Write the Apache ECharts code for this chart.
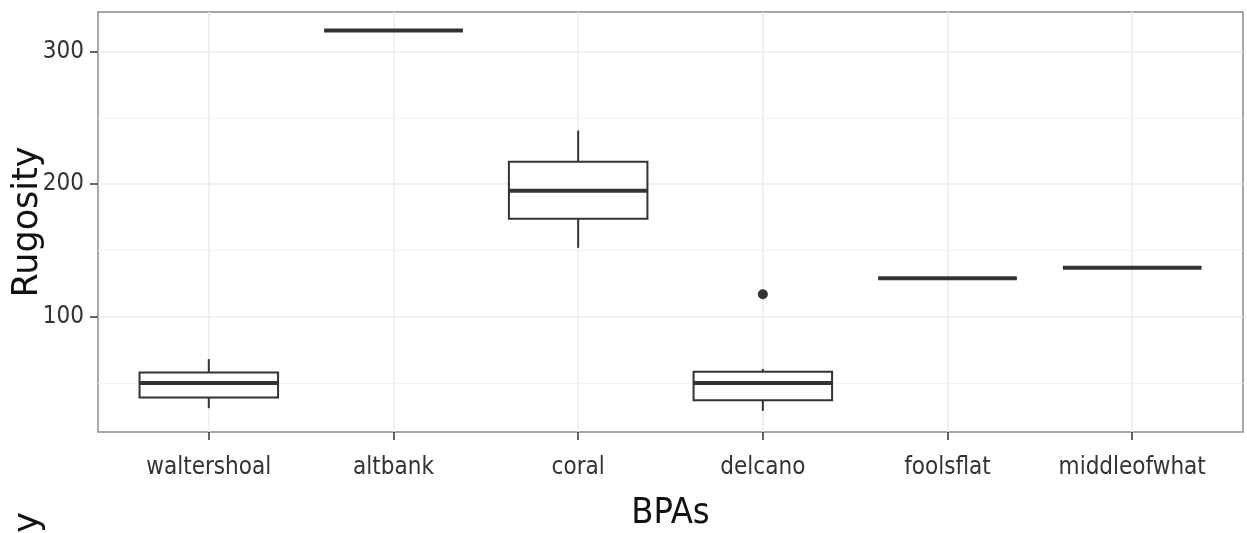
<!DOCTYPE html>
<html>
<head>
<meta charset="utf-8">
<script src="https://cdn.jsdelivr.net/npm/echarts@6/dist/echarts.min.js"></script>
<style>
html,body{margin:0;padding:0;background:#ffffff;}
#chart{width:1247px;height:533px;}
</style>
</head>
<body>
<div id="chart"></div>
<script>
// ---- data ----
const categories = ['waltershoal', 'altbank', 'coral', 'delcano', 'foolsflat', 'middleofwhat'];
const whiskerLow  = [31, 316, 152, 29, 129, 137];
const quartile1   = [39, 316, 174, 37, 129, 137];
const medians     = [50, 316, 195, 50, 129, 137];
const quartile3   = [58, 316, 217, 58.5, 129, 137];
const whiskerHigh = [68, 316, 240.5, 60.5, 129, 137];
const outlierCategory = ['delcano'];
const outlierValue    = [117];
const yTickValues  = [100, 200, 300];
const yMinorValues = [50, 150, 250];
const yRange = [13, 330];

// ---- build ----
const catPos = categories.map((c, i) => i + 1);
const boxData = categories.map((c, i) => [i + 1, whiskerLow[i], quartile1[i], medians[i], quartile3[i], whiskerHigh[i]]);
const outlierData = outlierCategory.map((c, i) => [categories.indexOf(c) + 1, outlierValue[i]]);

const narrowFont = '"Liberation Sans Narrow", "Arial Narrow", "DejaVu Sans Condensed", sans-serif';
const halfBox = 0.375;
const ink = '#333333';

const chart = echarts.init(document.getElementById('chart'), null, {renderer: 'canvas'});

const option = {
  animation: false,
  backgroundColor: '#ffffff',
  grid: {
    left: 98, top: 12, right: 4, bottom: 101,
    containLabel: false, outerBoundsMode: 'none',
    show: true, borderColor: '#8c8c8c', borderWidth: 1.5, backgroundColor: '#ffffff'
  },
  xAxis: {
    type: 'value', min: 0.4, max: 6.6,
    axisLine: {show: false},
    axisTick: {show: true, customValues: catPos, length: 8, lineStyle: {color: ink, width: 1.5}},
    axisLabel: {
      customValues: catPos,
      formatter: v => categories[Math.round(v) - 1] || '',
      fontFamily: narrowFont, fontSize: 24, color: '#333333', margin: 24
    },
    splitLine: {show: true, lineStyle: {color: '#ebebeb', width: 1.5}},
    name: 'BPAs', nameLocation: 'middle', nameGap: 64, nameMoveOverlap: false,
    nameTextStyle: {fontFamily: narrowFont, fontSize: 36, color: '#111111'}
  },
  yAxis: [
    {
      type: 'value', min: yRange[0], max: yRange[1], position: 'left',
      axisLine: {show: false},
      axisTick: {show: true, customValues: yTickValues, length: 8, lineStyle: {color: ink, width: 1.5}},
      axisLabel: {customValues: yTickValues, fontFamily: narrowFont, fontSize: 24, color: '#333333', margin: 14},
      splitLine: {show: true, lineStyle: {color: '#ebebeb', width: 1.5}},
      name: 'Rugosity', nameLocation: 'middle', nameGap: 53, nameMoveOverlap: false,
      nameTextStyle: {fontFamily: '"DejaVu Sans", sans-serif', fontSize: 35, color: '#111111'}
    },
    {
      type: 'value', min: yRange[0], max: yRange[1], position: 'left',
      axisLine: {show: false},
      axisTick: {show: false, customValues: yMinorValues},
      axisLabel: {show: false, customValues: yMinorValues},
      splitLine: {show: true, lineStyle: {color: '#f4f4f4', width: 1}}
    }
  ],
  graphic: [{
    type: 'text', rotation: Math.PI / 2, silent: true,
    style: {text: 'Rugosity', font: '35px "DejaVu Sans", sans-serif', fill: '#111111', align: 'right', verticalAlign: 'middle'},
    x: 29, y: 512
  }],
  series: [
    {
      type: 'custom',
      data: boxData,
      encode: {x: 0, y: [1, 2, 3, 4, 5]},
      z: 3,
      renderItem: function (params, api) {
        const x = api.value(0);
        const lo = api.coord([x, api.value(1)]);
        const q1 = api.coord([x - halfBox, api.value(2)]);
        const mdL = api.coord([x - halfBox, api.value(3)]);
        const mdR = api.coord([x + halfBox, api.value(3)]);
        const q3 = api.coord([x + halfBox, api.value(4)]);
        const hi = api.coord([x, api.value(5)]);
        const ls = {stroke: ink, lineWidth: 2};
        return {
          type: 'group',
          children: [
            {type: 'line', shape: {x1: hi[0], y1: hi[1], x2: hi[0], y2: q3[1]}, style: ls},
            {type: 'line', shape: {x1: lo[0], y1: q1[1], x2: lo[0], y2: lo[1]}, style: ls},
            {type: 'rect', shape: {x: q1[0], y: q3[1], width: q3[0] - q1[0], height: q1[1] - q3[1]},
              style: {fill: '#ffffff', stroke: ink, lineWidth: 2}},
            {type: 'line', shape: {x1: mdL[0], y1: mdL[1], x2: mdR[0], y2: mdR[1]}, style: {stroke: ink, lineWidth: 4}}
          ]
        };
      }
    },
    {
      type: 'scatter',
      data: outlierData,
      symbol: 'circle', symbolSize: 10,
      itemStyle: {color: ink, opacity: 1},
      z: 4
    }
  ]
};
chart.setOption(option);
</script>
</body>
</html>
